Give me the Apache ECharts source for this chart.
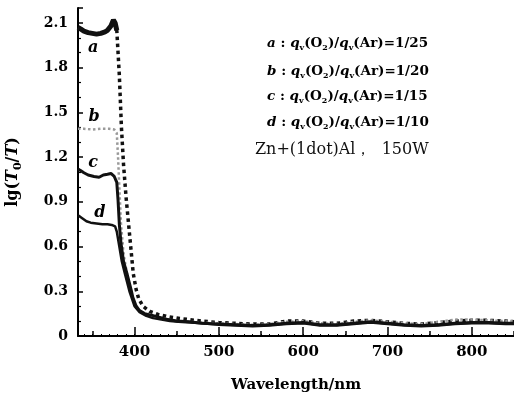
<!DOCTYPE html>
<html>
<head>
<meta charset="utf-8">
<script src="https://cdn.jsdelivr.net/npm/echarts@6/dist/echarts.min.js"></script>
<style>
  html, body { margin: 0; padding: 0; background: #fff; }
  #chart { width: 514px; height: 398px; }
</style>
</head>
<body>
<div id="chart"></div>
<script>
// wavelength (nm) and lg(T0/T)
const waveA = [333, 336, 340, 345, 350, 355, 360, 365, 368, 372, 375, 377, 379, 382, 384.5, 387, 390, 393, 395.5, 398.5,
  402, 405, 410, 418, 428, 440, 450, 465, 480, 500, 520, 540, 560, 580, 600, 620, 640, 660, 680, 700,
  720, 740, 760, 780, 800, 820, 840, 850];
const aValues = [2.07, 2.06, 2.045, 2.035, 2.03, 2.025, 2.03, 2.04, 2.05, 2.08, 2.12, 2.1, 2.05, 1.75, 1.40, 1.15, 0.93, 0.75, 0.60, 0.42,
  0.31, 0.25, 0.2, 0.165, 0.145, 0.13, 0.12, 0.11, 0.10, 0.09, 0.085, 0.08, 0.08, 0.10, 0.10, 0.085, 0.085, 0.10, 0.105, 0.095,
  0.085, 0.08, 0.09, 0.10, 0.105, 0.105, 0.10, 0.095];

const waveB = [333, 340, 350, 360, 370, 376, 379, 380.5, 382, 384, 387, 391, 395, 400, 406, 413, 420, 430, 440, 450,
  465, 480, 500, 520, 540, 560, 580, 600, 620, 640, 660, 680, 700, 720, 740, 760, 780, 800, 820, 840, 850];
const bValues = [1.39, 1.39, 1.385, 1.39, 1.39, 1.385, 1.36, 1.2, 1.0, 0.75, 0.55, 0.42, 0.31, 0.22, 0.17, 0.145, 0.13, 0.12, 0.11, 0.10,
  0.095, 0.09, 0.085, 0.08, 0.075, 0.08, 0.095, 0.10, 0.085, 0.08, 0.095, 0.105, 0.095, 0.085, 0.08, 0.095, 0.11, 0.11, 0.105, 0.10, 0.10];

const waveC = [333, 336, 340, 345, 352, 358, 363, 368, 372, 376, 379, 380.5, 382, 384, 387, 391, 396, 398, 402, 406,
  412, 420, 430, 440, 450, 465, 480, 500, 520, 540, 560, 580, 600, 620, 640, 660, 680, 700, 720, 740,
  760, 780, 800, 820, 840, 850];
const cValues = [1.12, 1.11, 1.095, 1.08, 1.07, 1.065, 1.08, 1.085, 1.09, 1.07, 1.03, 0.91, 0.75, 0.62, 0.5, 0.42, 0.31, 0.26, 0.2, 0.17,
  0.15, 0.14, 0.125, 0.11, 0.10, 0.095, 0.085, 0.08, 0.075, 0.07, 0.075, 0.085, 0.09, 0.075, 0.075, 0.085, 0.095, 0.085, 0.075, 0.07,
  0.075, 0.085, 0.09, 0.09, 0.085, 0.085];

const waveD = [333, 338, 343, 348, 355, 362, 368, 373, 377, 379, 382, 385, 389, 394, 400, 406, 414, 422, 432, 442,
  452, 466, 480, 500, 520, 540, 560, 580, 600, 620, 640, 660, 680, 700, 720, 740, 760, 780, 800, 820, 840, 850];
const dValues = [0.81, 0.79, 0.77, 0.76, 0.755, 0.75, 0.75, 0.745, 0.735, 0.70, 0.60, 0.5, 0.41, 0.3, 0.2, 0.16, 0.135, 0.12, 0.11, 0.10,
  0.095, 0.09, 0.085, 0.075, 0.07, 0.065, 0.07, 0.08, 0.085, 0.07, 0.07, 0.08, 0.09, 0.08, 0.07, 0.065, 0.07, 0.08, 0.085, 0.085, 0.08, 0.08];

// curve tags: [wavelength, value]
const tagA = [351, 1.93];
const tagB = [352, 1.47];
const tagC = [351, 1.16];
const tagD = [359, 0.825];

const ratios = ["1/25", "1/20", "1/15", "1/10"];
const curveNames = ["a", "b", "c", "d"];

const FONT = '"DejaVu Serif", "Liberation Serif", serif';

const pairs = (xs, ys) => xs.map((x, i) => [x, ys[i]]);
const aPairs = pairs(waveA, aValues);

const tagPoint = (name, coord) => ({
  symbol: "circle",
  symbolSize: 1,
  itemStyle: { color: "transparent" },
  label: {
    show: true,
    position: "inside",
    formatter: name,
    color: "#000",
    fontFamily: FONT,
    fontStyle: "italic",
    fontWeight: "bold",
    fontSize: 16
  },
  data: [{ coord: coord }]
});

const chart = echarts.init(document.getElementById("chart"));

const baseX = {
  type: "value",
  min: 333,
  max: 850,
  position: "bottom",
  splitLine: { show: false },
  axisLine: { show: false },
  axisLabel: { show: false }
};

const legendRich = {
  n: { fontFamily: FONT, fontSize: 13.5, fontWeight: "bold", lineHeight: 18, color: "#111" },
  i: { fontFamily: FONT, fontSize: 13.5, fontWeight: "bold", fontStyle: "italic", lineHeight: 18, color: "#111" },
  s: { fontFamily: FONT, fontSize: 8, fontWeight: "bold", lineHeight: 8, verticalAlign: "bottom", color: "#111" }
};
const legendY = [43, 71, 96, 122];

const graphics = curveNames.map((n, k) => ({
  type: "text",
  x: 267,
  y: legendY[k],
  style: {
    text: "{i|" + n + "}{n| : }{i|q}{s|v}{n|(O}{s|2}{n|)/}{i|q}{s|v}{n|(Ar)=" + ratios[k] + "}",
    rich: legendRich,
    verticalAlign: "middle"
  }
}));
graphics.push({
  type: "text",
  x: 255,
  y: 150,
  style: {
    text: "Zn+(1dot)Al，  150W",
    fontFamily: FONT,
    fontSize: 16,
    fill: "#111",
    verticalAlign: "middle"
  }
});

chart.setOption({
  animation: false,
  backgroundColor: "#fff",
  grid: { left: 78, right: 0, top: 8, bottom: 62, containLabel: false, outerBoundsMode: "none" },
  xAxis: [
    {
      ...baseX,
      splitNumber: 10,
      axisLine: { show: true, lineStyle: { color: "#000", width: 2 } },
      axisTick: { show: true, inside: true, length: 5, lineStyle: { color: "#000", width: 1.5 } }
    },
    {
      ...baseX,
      splitNumber: 5,
      axisTick: { show: true, inside: true, length: 9, lineStyle: { color: "#000", width: 1.5 } },
      axisLabel: {
        show: true,
        showMinLabel: false,
        showMaxLabel: false,
        margin: 9,
        color: "#000",
        fontFamily: FONT,
        fontWeight: "bold",
        fontSize: 15
      },
      name: "Wavelength/nm",
      nameLocation: "middle",
      nameGap: 42,
      nameTextStyle: { color: "#000", fontFamily: FONT, fontWeight: "bold", fontSize: 15 }
    },
    {
      ...baseX,
      splitNumber: 50,
      axisTick: { show: true, inside: true, length: 2, lineStyle: { color: "#000", width: 1 } }
    }
  ],
  yAxis: {
    type: "value",
    min: 0,
    max: 2.2,
    interval: 0.3,
    splitLine: { show: false },
    axisLine: { show: true, lineStyle: { color: "#000", width: 2 } },
    axisTick: { show: true, inside: true, length: 5, lineStyle: { color: "#000", width: 1.5 } },
    minorTick: { show: true, splitNumber: 3, length: 3, lineStyle: { color: "#000", width: 1.2 } },
    axisLabel: {
      showMaxLabel: false,
      margin: 10,
      color: "#000",
      fontFamily: FONT,
      fontWeight: "bold",
      fontSize: 14,
      formatter: (v) => (v === 0 ? "0" : v.toFixed(1))
    },
    name: "{n|lg(}{i|T}{s|0}{n|/}{i|T}{n|)}",
    nameLocation: "middle",
    nameGap: 54,
    nameTextStyle: {
      rich: {
        n: { fontFamily: FONT, fontSize: 16, fontWeight: "bold", lineHeight: 22, color: "#000" },
        i: { fontFamily: FONT, fontSize: 16, fontWeight: "bold", fontStyle: "italic", lineHeight: 22, color: "#000" },
        s: { fontFamily: FONT, fontSize: 11, fontWeight: "bold", lineHeight: 11, verticalAlign: "bottom", color: "#000" }
      }
    }
  },
  graphic: graphics,
  series: [
    {
      type: "line",
      xAxisIndex: 0,
      data: aPairs.filter((p) => p[0] <= 379),
      symbol: "none",
      lineStyle: { color: "#111", width: 5 },
      markPoint: tagPoint("a", tagA)
    },
    {
      type: "line",
      xAxisIndex: 0,
      data: aPairs.filter((p) => p[0] >= 377),
      symbol: "none",
      lineStyle: { color: "#111", width: 3.5, type: "dotted" }
    },
    {
      type: "line",
      xAxisIndex: 0,
      data: pairs(waveB, bValues),
      symbol: "none",
      lineStyle: { color: "#9a9a9a", width: 2.5, type: "dotted" },
      markPoint: tagPoint("b", tagB)
    },
    {
      type: "line",
      xAxisIndex: 0,
      data: pairs(waveC, cValues),
      symbol: "none",
      lineStyle: { color: "#111", width: 3 },
      markPoint: tagPoint("c", tagC)
    },
    {
      type: "line",
      xAxisIndex: 0,
      data: pairs(waveD, dValues),
      symbol: "none",
      lineStyle: { color: "#111", width: 2.5 },
      markPoint: tagPoint("d", tagD)
    }
  ]
});
</script>
</body>
</html>
